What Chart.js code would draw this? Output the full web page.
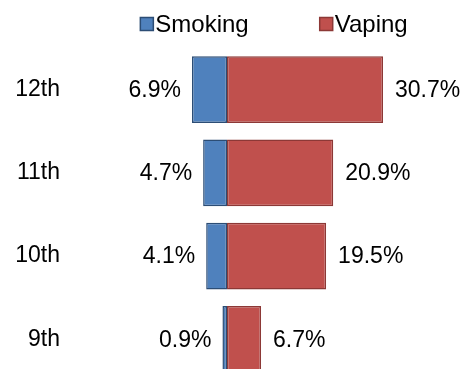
<!DOCTYPE html>
<html>
<head>
<meta charset="utf-8">
<script src="https://cdn.jsdelivr.net/npm/chart.js@4/dist/chart.umd.min.js"></script>
<style>
  html, body { margin: 0; padding: 0; background: #fff; overflow: hidden; }
  canvas { display: block; }
</style>
</head>
<body>
<canvas id="myChart" width="475" height="369"></canvas>
<script>
// ***** data *****
var grades = ['12th', '11th', '10th', '9th'];
var smoking = [6.9, 4.7, 4.1, 0.9];
var vaping = [30.7, 20.9, 19.5, 6.7];

var FONT = '"Liberation Sans", Arial, sans-serif';
Chart.defaults.font.family = FONT;
Chart.defaults.color = '#000';

// ***** plot area runs past the bottom edge (9th bar is cut off in the original) *****
var stretchArea = {
    id: 'stretchArea',
    afterLayout: function (chart) {
        var bottom = 381;
        var y = chart.scales.y;
        y.bottom = bottom;
        y.height = bottom - y.top;
        y.configure();
        chart.chartArea.bottom = bottom;
        chart.chartArea.height = bottom - chart.chartArea.top;
    }
};

// ***** legend drawn by hand (spacing like the original) *****
var legendPlugin = {
    id: 'topLegend',
    afterDraw: function (chart) {
        var ctx = chart.ctx;
        var sets = chart.data.datasets;
        var box = 13, gapText = 2, gapItem = 71, cy = 24;
        ctx.save();
        ctx.font = '24px ' + FONT;
        var widths = sets.map(function (d) { return box + gapText + ctx.measureText(d.label).width; });
        var total = widths.reduce(function (a, b) { return a + b; }, 0) + gapItem * (sets.length - 1);
        var x = 274 - total / 2;
        sets.forEach(function (d, i) {
            ctx.fillStyle = d.backgroundColor;
            ctx.strokeStyle = d.borderColor;
            ctx.lineWidth = 1.5;
            ctx.fillRect(x, cy - box / 2, box, box);
            ctx.strokeRect(x, cy - box / 2, box, box);
            ctx.fillStyle = '#000';
            ctx.textBaseline = 'middle';
            ctx.textAlign = 'left';
            ctx.fillText(d.label, x + box + gapText, cy + 1);
            x += widths[i] + gapItem;
        });
        ctx.restore();
    }
};

// ***** value labels at bar ends *****
var valueLabels = {
    id: 'valueLabels',
    afterDatasetsDraw: function (chart) {
        var ctx = chart.ctx;
        ctx.save();
        ctx.font = '23px ' + FONT;
        ctx.fillStyle = '#000';
        ctx.textBaseline = 'middle';
        chart.data.datasets.forEach(function (d, i) {
            var meta = chart.getDatasetMeta(i);
            meta.data.forEach(function (bar, j) {
                var txt = Math.abs(d.data[j]).toFixed(1) + '%';
                if (d.data[j] < 0) {
                    ctx.textAlign = 'right';
                    ctx.fillText(txt, bar.x - 11, bar.y + 1);
                } else {
                    ctx.textAlign = 'left';
                    ctx.fillText(txt, bar.x + 12, bar.y + 1);
                }
            });
        });
        ctx.restore();
    }
};

var ctx = document.getElementById('myChart').getContext('2d');
var chart = new Chart(ctx, {
    type: 'bar',
    data: {
        labels: grades,
        datasets: [{
            label: 'Smoking',
            data: smoking.map(function (v) { return -v; }),
            backgroundColor: '#4F81BD',
            borderColor: '#2C4D75',
            borderWidth: 1.5,
            borderSkipped: false
        }, {
            label: 'Vaping',
            data: vaping,
            backgroundColor: '#C0504D',
            borderColor: '#8C3836',
            borderWidth: 1.5,
            borderSkipped: false
        }]
    },
    options: {
        indexAxis: 'y',
        responsive: false,
        animation: false,
        layout: { padding: { top: 48, bottom: 0, left: 0, right: 0 } },
        datasets: { bar: { categoryPercentage: 1, barPercentage: 0.8 } },
        plugins: { legend: { display: false }, tooltip: { enabled: false } },
        scales: {
            x: {
                stacked: true, display: false,
                min: -30.9, max: 48.8
            },
            y: {
                stacked: true,
                grid: { display: false, drawTicks: false },
                border: { display: false },
                ticks: { padding: 10, font: { size: 23 }, color: '#000' },
                afterFit: function (scale) { scale.width = 70; }
            }
        }
    },
    plugins: [stretchArea, legendPlugin, valueLabels]
});
</script>
</body>
</html>
